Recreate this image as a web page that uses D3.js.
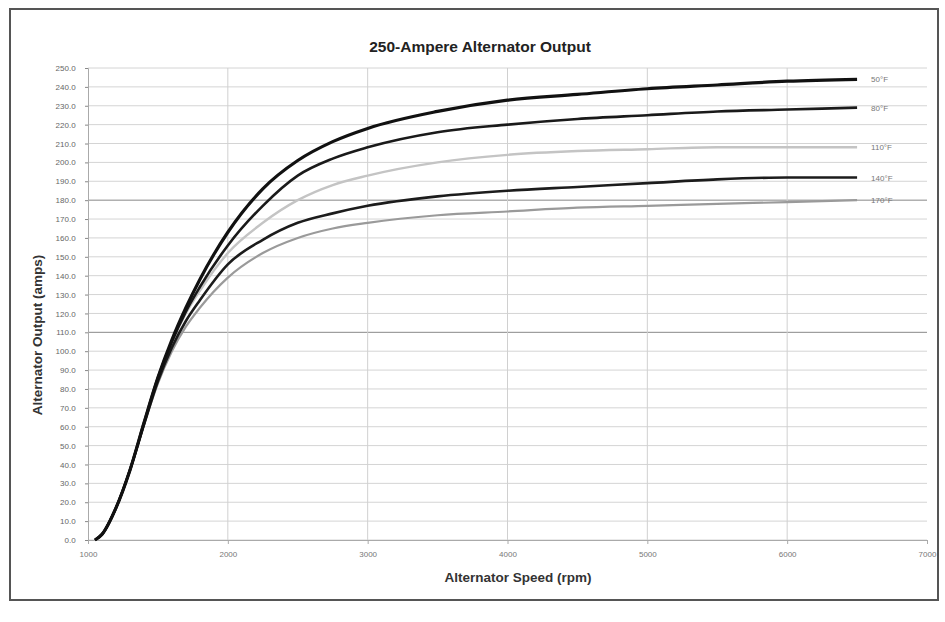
<!DOCTYPE html>
<html lang="en">
<head>
  <script src="https://d3js.org/d3.v7.min.js"></script>
  <style>
    body { margin: 0; background: #fff; font-family: "Liberation Sans", Arial, sans-serif; }
  </style>
</head>
<body>
<svg id="chart" width="945" height="622"></svg>
<script>
  // alternator speed (rpm)
  const speeds = [1050, 1100, 1200, 1300, 1400, 1500, 1600, 1700, 1800, 2000, 2250, 2500, 2750, 3000, 3500, 4000, 4500, 5000, 5500, 6000, 6500];
  const seriesNames = ['50°F', '80°F', '110°F', '140°F', '170°F'];
  const out50 = [0, 3, 17, 37, 62, 86, 106, 123, 138, 163, 186, 201, 211, 218, 227, 233, 236, 239, 241, 243, 244];
  const out80 = [0, 3, 17, 37, 62, 86, 105, 121, 134, 156, 177, 193, 202, 208, 216, 220, 223, 225, 227, 228, 229];
  const out110 = [0, 3, 17, 37, 62, 86, 105, 120, 132, 152, 168, 180, 188, 193, 200, 204, 206, 207, 208, 208, 208];
  const out140 = [0, 3, 17, 37, 61, 84, 102, 116, 127, 146, 159, 168, 173, 177, 182, 185, 187, 189, 191, 192, 192];
  const out170 = [0, 3, 17, 37, 61, 83, 100, 113, 123, 139, 152, 160, 165, 168, 172, 174, 176, 177, 178, 179, 180];
  const xTicks = [1000, 2000, 3000, 4000, 5000, 6000, 7000];
  const yTicks = d3.range(0, 251, 10);

  const series = [out50, out80, out110, out140, out170];
  const lineColors = ['#111', '#1a1a1a', '#c4c4c4', '#1c1c1c', '#9a9a9a'];
  const lineWidths = [3.2, 2.6, 2.4, 2.6, 2.2];

  const margin = { top: 68, left: 88, bottom: 82, right: 18 };
  const width = 945 - margin.left - margin.right;
  const height = 622 - margin.top - margin.bottom;

  const root = d3.select('#chart');

  // frame
  root.append('rect')
    .attr('x', 10).attr('y', 9)
    .attr('width', 928).attr('height', 591)
    .attr('fill', 'none')
    .attr('stroke', '#555')
    .attr('stroke-width', 2);

  const svg = root.append('g')
    .attr('transform', `translate(${margin.left},${margin.top})`);

  const xScale = d3.scaleLinear().domain([1000, 7000]).range([0, width]);
  const yScale = d3.scaleLinear().domain([0, 250]).range([height, 0]);

  // grid
  svg.append('g').selectAll('line.h')
    .data(yTicks)
    .join('line')
    .attr('x1', 0).attr('x2', width)
    .attr('y1', d => yScale(d)).attr('y2', d => yScale(d))
    .attr('stroke', d => (d === 110 || d === 180) ? '#888' : '#d4d4d4')
    .attr('stroke-width', 1);

  svg.append('g').selectAll('line.v')
    .data(xTicks.slice(1, -1))
    .join('line')
    .attr('x1', d => xScale(d)).attr('x2', d => xScale(d))
    .attr('y1', 0).attr('y2', height)
    .attr('stroke', '#d0d0d0');

  const xAxis = d3.axisBottom(xScale).tickValues(xTicks).tickFormat(d3.format('d')).tickSize(4);
  const yAxis = d3.axisLeft(yScale).tickValues(yTicks).tickFormat(d3.format('.1f')).tickSize(3);

  svg.append('g')
    .attr('transform', `translate(0,${height})`)
    .call(xAxis)
    .call(g => g.select('.domain').attr('stroke', '#aaa'))
    .call(g => g.selectAll('line').attr('stroke', '#aaa'))
    .call(g => g.selectAll('text').attr('fill', '#777').attr('font-size', 8).attr('dy', '1.3em'));

  svg.append('g')
    .call(yAxis)
    .call(g => g.select('.domain').attr('stroke', '#aaa'))
    .call(g => g.selectAll('line').attr('stroke', '#888'))
    .call(g => g.selectAll('text').attr('fill', '#666').attr('font-size', 8).attr('dx', '-0.8em'));

  const line = d3.line()
    .x((d, i) => xScale(speeds[i]))
    .y(d => yScale(d))
    .curve(d3.curveMonotoneX);

  // draw lighter curves first
  const order = [2, 4, 3, 1, 0];
  order.forEach(k => {
    svg.append('path')
      .datum(series[k])
      .attr('fill', 'none')
      .attr('stroke', lineColors[k])
      .attr('stroke-width', lineWidths[k])
      .attr('d', line);
  });

  svg.selectAll('.lbl')
    .data(series)
    .join('text')
    .attr('class', 'lbl')
    .attr('x', xScale(speeds[speeds.length - 1]) + 14)
    .attr('y', d => yScale(d[d.length - 1]) + 3)
    .attr('font-size', 8)
    .attr('fill', '#777')
    .text((d, i) => seriesNames[i]);

  // titles
  root.append('text')
    .attr('x', 480).attr('y', 52)
    .attr('text-anchor', 'middle')
    .attr('font-size', 15.5)
    .attr('font-weight', 'bold')
    .attr('fill', '#222')
    .text('250-Ampere Alternator Output');

  root.append('text')
    .attr('x', 518).attr('y', 582)
    .attr('text-anchor', 'middle')
    .attr('font-size', 13.5)
    .attr('font-weight', 'bold')
    .attr('fill', '#333')
    .text('Alternator Speed (rpm)');

  root.append('text')
    .attr('transform', 'translate(42,335) rotate(-90)')
    .attr('text-anchor', 'middle')
    .attr('font-size', 13.5)
    .attr('font-weight', 'bold')
    .attr('fill', '#333')
    .text('Alternator Output (amps)');
</script>
</body>
</html>
